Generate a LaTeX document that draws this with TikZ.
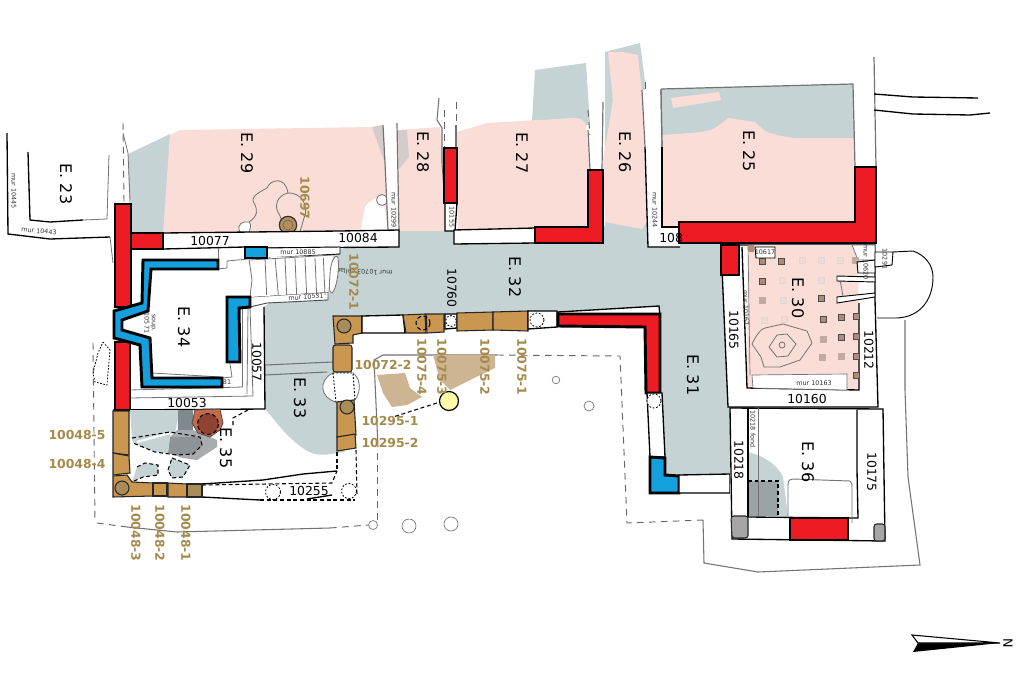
\documentclass[tikz,border=0pt]{standalone}
\usepackage{fontspec}
\setmainfont{DejaVu Sans}
\usetikzlibrary{calc}
\definecolor{grayz}{HTML}{C5D3D5}
\definecolor{pinkz}{HTML}{F9DDD6}
\definecolor{mauvez}{HTML}{D3CBCC}
\definecolor{redw}{HTML}{ED1C24}
\definecolor{bluew}{HTML}{149FDD}
\definecolor{brick}{HTML}{C9974F}
\definecolor{brickd}{HTML}{A98C5C}
\definecolor{tanz}{HTML}{CDB593}
\definecolor{labc}{HTML}{A58A4B}
\definecolor{sqd}{HTML}{B08A78}
\definecolor{sqg}{HTML}{C2ABA5}
\definecolor{sqf}{HTML}{F3D9D0}
\definecolor{ovenout}{HTML}{C76A4A}
\definecolor{ovenin}{HTML}{8F4433}
\definecolor{darka}{HTML}{7F898E}
\definecolor{darkb}{HTML}{8E9397}
\definecolor{darkc}{HTML}{A9ACAF}
\tikzset{
 redwall/.style={draw=black,fill=redw,line width=2.2pt,line join=miter},
 bluewall/.style={draw=black,fill=bluew,line width=2.2pt,line join=miter},
 whitewall/.style={draw=black,fill=white,line width=1pt},
 brickbox/.style={draw=black!85,fill=brick,line width=.8pt},
 brickcirc/.style={draw=black!85,fill=brickd,line width=.8pt},
 thin gray/.style={draw=black!55,line width=.6pt},
 thinblack/.style={draw=black,line width=1pt},
 dashgray/.style={draw=black!60,line width=.7pt,dash pattern=on 5pt off 4pt},
 dashblack/.style={draw=black,line width=.8pt,dash pattern=on 3pt off 2pt},
 dotcirc/.style={draw=black,line width=.6pt,dash pattern=on 1.4pt off 1.2pt,fill=white},
 bigt/.style={font=\fontsize{12}{12}\selectfont,rotate=-90,inner sep=0pt},
 numh/.style={font=\fontsize{9.3}{9.3}\selectfont,inner sep=0pt},
 numv/.style={numh,rotate=-90},
 tiny lab/.style={font=\fontsize{4.8}{5.5}\selectfont,inner sep=0pt,text=black!80,align=center},
 brownh/.style={font=\bfseries\fontsize{9.3}{9.3}\selectfont,text=labc,inner sep=0pt},
 brownv/.style={brownh,rotate=-90},
}
\newcommand{\sqr}[4]{\filldraw[fill=#1,draw=#4,line width=.35pt] ($(640,210)+(#2/3,#3/3)+(-3,-3)$) rectangle ++(6,6);}
\begin{document}
\begin{tikzpicture}[x=.75pt,y=-.75pt]
\useasboundingbox (0,0) rectangle (1024,678);
\fill[white] (0,0) rectangle (1024,678);
% ---------- gray zones
\fill[grayz] (128,154) -- (170,134) -- (165,236) -- (130,236) -- cycle;
\fill[grayz] (264,307) -- (340,250) -- (398,230) -- (648,225) -- (722,240) -- (723,275) -- (730,408) -- (730,475) -- (665,475) -- (655,318) -- (335,318) -- (345,452) -- (337,453) .. controls (322,456) and (312,456) .. (300,446) .. controls (285,435) and (275,420) .. (265,409) -- cycle;
\fill[grayz] (535,70) -- (586,63) -- (590,125) -- (532,122) -- cycle;
\fill[grayz] (605,52) -- (640,43) -- (645,82) -- (650,226) -- (605,226) -- cycle;
\fill[grayz] (661,89) -- (853,84) -- (855,140) -- (662,140) -- cycle;
% ---------- pink zones
\fill[pinkz] (170,135) -- (180,130) -- (372,127) -- (383,125) -- (388,232) -- (163,234) -- cycle;
\fill[white] (360,232) -- (365,207) .. controls (370,200) and (376,197) .. (383,197) -- (388,232) -- cycle;
\fill[mauvez] (372,127) -- (383,125) -- (385,163) -- cycle;
\fill[pinkz] (398,130) -- (440,127) -- (443,165) -- (447,231) -- (398,231) -- cycle;
\fill[mauvez] (398,130) -- (407,130) -- (409,157) -- (399,169) -- cycle;
\fill[pinkz] (457,132) -- (487,123) -- (573,118) .. controls (580,118) and (585,120) .. (586,125) -- (590,170) -- (590,228) -- (458,231) -- cycle;
\fill[pinkz] (608,52) .. controls (620,51) and (630,53) .. (638,55) -- (642,93) -- (647,147) -- (648,220) -- (642,229) -- (605,222) -- (603,160) -- (613,100) -- cycle;
\fill[pinkz] (662,135) -- (690,133) .. controls (705,132) and (713,130) .. (718,126) -- (728,118) -- (755,122) .. controls (760,126) and (763,130) .. (767,132) .. controls (780,136) and (790,138) .. (797,138) -- (854,138) -- (855,226) -- (662,228) -- cycle;
\fill[pinkz] (671,98) -- (719,92) -- (721,100) -- (673,108) -- cycle;
% ---------- E.23
\draw[thinblack] (7,133) -- (8,234) -- (50,239) -- (110,237);
\draw[thinblack] (28,152) -- (30,220) -- (50,222) -- (83,220);
\draw[thin gray] (83,220) -- (107,219) -- (109,155);
\draw[thin gray] (110,237) -- (113,263);
\draw[dashgray] (123,123) -- (124,202);
\draw[thin gray] (123,133) -- (128,153) -- (130,200);
% ---------- E.29 features
\draw[thin gray,fill=white] (240,232) .. controls (236,224) and (243,221) .. (249,222) .. controls (252,224) and (250,230) .. (249,232);
\draw[thin gray] (249,222) .. controls (258,216) and (258,210) .. (254,203) .. controls (250,197) and (258,193) .. (267,188) .. controls (270,180) and (285,175) .. (288,193) .. controls (278,195) and (274,205) .. (278,212) .. controls (284,222) and (280,225) .. (283,232);
\draw[thin gray] (288,193) .. controls (300,192) and (310,205) .. (304,218) -- (300,232);
\node[circle,minimum size=13pt,inner sep=0pt,draw=black!80,line width=.9pt,fill=brickd!60!brick] (c697) at (288,225) {};
\draw[draw=black!60,line width=.5pt] (288,225) circle (5);
\draw[thin gray,fill=white] (382,200) circle (5.5);
% ---------- small lines north
\fill[white] (383,125) -- (397,123) -- (399,232) -- (388,232) -- cycle;
\draw[thin gray,line width=.9pt] (383,125) -- (385,163) -- (388,230);
\draw[thin gray,line width=.9pt] (397,123) -- (399,232);
\draw[dashgray] (444,110) -- (444,147);
\draw[dashgray] (456,102) -- (456,125);
\draw[thin gray,line width=.8pt] (456,125) -- (456,148);
\draw[thin gray,line width=.8pt] (439,98) -- (437,120) -- (442,128) -- (442,163) -- (445,203);
\draw[dashgray] (588,110) -- (590,135);
\draw[thin gray,line width=.9pt] (588,130) -- (590,170);
\draw[thin gray,line width=.9pt] (603,102) -- (602,170);
\draw[dashgray] (645,82) -- (645,120);
\fill[white] (642,90) -- (661,90) -- (662,227) -- (680,227) -- (680,247) -- (648,247) -- cycle;
\draw[thin gray,line width=.9pt] (642,90) -- (645,147);
\draw[thinblack] (645,147) -- (648,247) -- (680,247);
\draw[thin gray,line width=.9pt] (661,90) -- (662,147);
\draw[thinblack] (662,147) -- (662,227) -- (680,227);
\draw[thin gray,line width=.9pt] (661,89) -- (853,84) -- (855,167);
\draw[thin gray,line width=.9pt] (661,89) -- (662,147);
\draw[thin gray,line width=.9pt] (874,57) -- (876,167);
\draw[thinblack] (874,94) -- (913,97) -- (978,98);
\draw[thinblack] (874,110) -- (913,114) -- (970,115) -- (990,113);
% ---------- walls of northern row
\draw[whitewall] (163,233) -- (340,231) -- (399,230) -- (399,247) -- (267,248) -- (245,247) -- (163,249) -- cycle;
\draw[whitewall] (445,203) -- (457,203) -- (455,231) -- (445,231) -- cycle;
\draw[whitewall] (454,230) -- (535,228) -- (535,243) -- (454,244) -- cycle;
\draw[redwall] (444,148) rectangle (457,203);
\draw[redwall] (535,227) -- (588,227) -- (588,170) -- (603,170) -- (603,243) -- (535,243) -- cycle;
\draw[redwall] (679,222) -- (855,222) -- (855,167) -- (876,167) -- (876,243) -- (679,243) -- cycle;
% ---------- E.34 block
\draw[whitewall,line width=.7pt] (267,248) -- (340,247) -- (340,254) -- (267,258) -- cycle;
\draw[whitewall,line width=.7pt,draw=black!70] (250,297) -- (328,292) -- (328,300) -- (267,303) -- (250,307) -- cycle;
\fill[white] (250,258) -- (333,255) -- (328,292) -- (250,297) -- cycle;
\draw[thin gray] (218,248) -- (218,269);
\draw[thin gray] (227,268) -- (227,261) -- (248,259);
\draw[thin gray] (218,269) -- (227,268);
\draw[thin gray] (249,259) -- (252,280) -- (250,297);
\draw[thin gray] (250,260) -- (333,255);
\foreach \a/\b in {795/800,825/835,855/860,885/890,915/920,945/950,970/975}
  \draw[thin gray] ({\a/3},258) -- ({\b/3},{120+525/3});
\draw[thin gray,fill=white] (330,275) .. controls (330,262) and (336,252) .. (338,258) .. controls (340,270) and (336,290) .. (332,293) .. controls (329,293) and (329,285) .. (330,275);
\draw[thin gray] (248,308) -- (247,394);
\draw[thin gray] (242,308) -- (242,387);
\draw[thin gray] (152,373) -- (221,377);
\draw[thin gray] (230,364) -- (232,377) -- (222,378);
\draw[thin gray] (130,390) -- (243,387);
\draw[thin gray] (130,398) -- (253,396) -- (250,307);
\draw[thin gray,line width=.8pt] (265,365) -- (333,362);
\draw[thin gray,line width=.8pt] (265,375) -- (327,372);
\draw[thinblack] (264,307) -- (265,409);
\draw[thinblack] (113,410) -- (265,409);
\draw[redwall] (115,204) rectangle (131,307);
\draw[redwall] (131,233) rectangle (163,249);
\draw[redwall] (115,342) rectangle (130,410);
\draw[bluewall] (245,247) rectangle (267,258);
\draw[bluewall] (143,260) -- (218,260) -- (218,269) -- (151,269) -- (148,311) -- (122,320) -- (122,330) -- (150,338) -- (152,378) -- (222,378) -- (222,387) -- (142,387) -- (140,345) -- (114,338) -- (114,311) -- (142,303) -- cycle;
\draw[bluewall] (227,297) -- (250,297) -- (250,307) -- (239,308) -- (240,362) -- (227,362) -- cycle;
% ---------- outer site lines
\draw[dashgray] (93,343) -- (95,522);
\draw[dashgray] (97,523) -- (127,527);
\draw[thin gray,line width=.8pt] (127,527) -- (177,532) -- (330,528);
\draw[dashgray] (330,528) -- (368,525);
\draw[dashgray] (377,520) -- (377,453);
\draw[thin gray,line width=.8pt] (378,447) -- (374,360) -- (383,355) -- (497,355);
\draw[dashgray] (497,355) -- (620,356) -- (627,523) -- (703,520);
\draw[thin gray,line width=.8pt] (703,520) -- (704,563) -- (758,572) -- (920,565) -- (908,477) -- (905,390) -- (905,320);
\draw[black,line width=.6pt,dash pattern=on 1.2pt off 1.2pt] (103,342) -- (110,350) -- (107,385) -- (95,382) -- (93,373) -- (98,353) -- cycle;
\draw[thin gray,line width=.5pt] (373,525) circle (4.5);
\draw[thin gray,line width=.5pt] (409,526) circle (7);
\draw[thin gray,line width=.5pt] (451,524) circle (7);
\draw[thin gray,line width=.5pt] (556,380) circle (3.8);
\draw[thin gray,line width=.5pt] (589,406) circle (5);
% ---------- tan zones
\fill[tanz] (377,375) -- (405,373) -- (410,388) -- (422,397) -- (407,405) -- (392,407) -- (383,393) -- cycle;
\fill[tanz] (433,355) -- (495,355) -- (495,368) -- (470,380) -- (450,390) -- (440,380) -- cycle;
\draw[dashblack] (437,403) -- (393,417);
\draw[black,line width=.9pt,fill=yellow!35!white] (449,401) circle (9.5);
% ---------- E.35
\fill[grayz] (130,410) -- (180,410) -- (175,433) -- (132,438) -- cycle;
\fill[darka] (178,410) -- (193,410) -- (193,430) -- (178,430) -- cycle;
\fill[darkc] (193,430) -- (217,440) -- (217,447) -- (197,460) -- (183,458) -- (168,453) -- (170,437) -- (177,430) -- cycle;
\fill[darkb] (170,437) -- (200,437) -- (202,445) -- (193,454) -- (177,455) -- (168,453) -- cycle;
\fill[grayz] (132,438) -- (170,432) -- (170,437) -- (168,453) -- (155,452) -- (133,443) -- cycle;
\draw[white,line width=1.6pt] (137,442) -- (170,433);
\draw[dashblack] (132,438) -- (170,432) -- (200,437) -- (202,445) -- (193,454) -- (177,455) -- (155,452) -- (133,443);
\fill[grayz] (132,482) -- (137,467) -- (145,463) -- (158,465) -- (158,475) -- (143,477) -- cycle;
\draw[dashblack] (137,467) -- (145,463) -- (158,465) -- (158,475) -- (143,477) -- (132,482);
\draw[dashblack,fill=grayz] (172,458) -- (190,465) -- (183,477) -- (172,478) -- (168,470) -- cycle;
\draw[draw=black!70,line width=.6pt,fill=ovenout] (195,410) -- (220,409) -- (223,423) -- (220,430) -- (210,437) -- (198,433) -- (192,423) -- cycle;
\draw[dashblack,fill=ovenin] (208,424) circle (10.5);
\draw[dashblack] (248,410) -- (233,418) -- (233,425);
% ---------- 10255
\draw[thinblack] (202,484) -- (263,480) -- (303,474) -- (337,471);
\draw[dashblack] (202,485) -- (332,483) -- (337,471);
\draw[thinblack] (202,497) -- (260,500);
\draw[dashblack] (260,500) -- (355,500);
\draw[thinblack] (307,499) -- (332,495);
\draw[dashblack] (337,452) -- (337,470);
\draw[dashblack] (356,450) -- (357,495);
\draw[dotcirc] (273,492) circle (7.5);
\draw[dotcirc] (349,491) circle (7.5);
% ---------- bricks lower left
\draw[brickbox] (113,411) -- (129,411) -- (129,455) -- (113,453) -- cycle;
\draw[brickbox] (113,453) -- (129,456) -- (130,473) -- (113,475) -- cycle;
\draw[brickbox] (113,476) -- (127,475) -- (132,482) -- (153,483) -- (153,496) -- (113,497) -- cycle;
\draw[brickbox] (153,483) -- (167,483) -- (167,496) -- (153,496) -- cycle;
\draw[brickbox] (168,483) -- (187,484) -- (187,497) -- (168,497) -- cycle;
\draw[brickbox,fill=brickd] (187,484) -- (202,484) -- (202,497) -- (187,497) -- cycle;
\draw[brickcirc] (122,488) circle (7);
% ---------- brick row
\draw[brickbox] (333,316) -- (362,316) -- (362,333) -- (353,335) -- (353,343) -- (335,344) -- cycle;
\draw[brickcirc] (344,326) circle (7);
\draw[whitewall] (362,316) -- (403,315) -- (405,333) -- (362,333) -- cycle;
\draw[brickbox] (403,315) -- (425,314) -- (426,333) -- (406,333) -- cycle;
\draw[brickbox] (426,314) -- (444,314) -- (444,332) -- (427,333) -- cycle;
\draw[dashblack] (423,323) circle (7);
\draw[whitewall] (445,314) -- (457,314) -- (457,328) -- (445,329) -- cycle;
\draw[dotcirc] (451,321) circle (5.5);
\draw[brickbox] (457,313) -- (493,312) -- (493,330) -- (457,331) -- cycle;
\draw[brickbox] (493,312) -- (528,311) -- (528,331) -- (493,330) -- cycle;
\draw[whitewall] (528,311) -- (557,311) -- (557,327) -- (528,329) -- cycle;
\draw[dotcirc] (537,320) circle (7);
\draw[whitewall] (558,312) -- (659,306) -- (660,316) -- (558,316) -- cycle;
\draw[redwall] (558,314) -- (660,314) -- (660,393) -- (646,393) -- (645,327) -- (558,326) -- cycle;
\draw[whitewall] (647,393) -- (662,393) -- (665,457) -- (650,457) -- cycle;
\draw[dotcirc] (654,401) circle (7);
\draw[bluewall] (650,457) -- (665,458) -- (665,475) -- (679,476) -- (679,493) -- (650,493) -- cycle;
\draw[whitewall] (679,475) -- (730,474) -- (730,493) -- (679,493) -- cycle;
% ---------- west brick side
\draw[brickbox,rounded corners=2pt] (333,345) -- (352,345) -- (352,372) -- (333,372) -- cycle;
\draw[thin gray,fill=white] (333,373) .. controls (318,380) and (320,398) .. (336,402) -- (355,400) .. controls (362,390) and (360,378) .. (353,373) -- cycle;
\draw[black,line width=.7pt,dash pattern=on 1.3pt off 1.3pt,fill=white] (333,373) -- (353,373) -- (355,400) -- (336,402) -- cycle;
\draw[brickbox] (337,402) -- (354,400) -- (356,435) -- (337,437) -- cycle;
\draw[brickcirc] (347,407) circle (7);
\draw[brickbox] (337,437) -- (355,434) -- (356,448) -- (337,451) -- cycle;
% ---------- E.30
\draw[whitewall] (721,245) -- (875,245) -- (875,300) -- (878,407) -- (728,407) -- cycle;
\fill[pinkz] (748,245) -- (852,245) -- (858,260) -- (860,390) -- (747,388) -- cycle;
\draw[thinblack] (742,247) -- (747,388) -- (859,390) -- (859,303);
\draw[thin gray,line width=.5pt] (748,245) -- (750,375);
\draw[thin gray,fill=white,line width=.5pt] (752,375) -- (847,374) -- (847,390) -- (753,388) -- cycle;
\draw[thin gray,fill=white,line width=.6pt] (852,245) -- (858,260) -- (875,260) -- (875,245) -- cycle;
\fill[sqd] (748,245) rectangle (754,252);
\sqr{sqd}{367}{155}{black!70}\sqr{sqd}{425}{153}{black!70}\sqr{sqd}{367}{215}{black!70}
\sqr{sqd}{544}{265}{black!70}\sqr{sqd}{550}{327}{black!70}\sqr{sqd}{604}{323}{black!70}
\sqr{sqd}{604}{381}{black!70}\sqr{sqd}{650}{320}{black!70}\sqr{sqd}{650}{380}{black!70}
\sqr{sqd}{650}{438}{black!70}\sqr{sqd}{650}{497}{black!70}
\sqr{sqg}{367}{272}{sqg}\sqr{sqg}{550}{387}{sqg}\sqr{sqg}{547}{443}{sqg}\sqr{sqg}{604}{438}{sqg}\sqr{sqg}{645}{150}{sqg}
\sqr{sqf}{487}{152}{black!15}\sqr{sqf}{544}{152}{black!15}\sqr{sqf}{600}{152}{black!15}\sqr{sqf}{428}{212}{black!15}\sqr{sqf}{544}{210}{black!15}\sqr{sqf}{430}{272}{black!15}\sqr{sqf}{372}{332}{black!15}\sqr{sqf}{432}{328}{black!15}
\draw[thin gray,line width=.6pt] (752,344) .. controls (756,335) and (762,328) .. (765,328) -- (783,324) -- (807,331) -- (812,343) -- (800,360) -- (780,367) -- (764,367) -- (761,357) -- cycle;
\draw[thin gray,line width=.6pt] (769,347) -- (777,335) -- (787,334) -- (796,344) -- (788,356) -- (777,357) -- cycle;
\draw[thin gray,line width=.6pt] (782,345) circle (3);
\draw[whitewall,line width=.7pt] (837,276) -- (875,277) -- (875,282) -- (837,281) -- cycle;
\draw[whitewall,line width=.7pt] (837,297) -- (875,293) -- (875,297) -- (837,303) -- cycle;
\draw[thin gray] (840,281) .. controls (842,288) and (842,292) .. (843,297);
\draw[whitewall,line width=.7pt] (857,262) -- (875,260) -- (875,273) -- (858,273) -- cycle;
\draw[whitewall,line width=.7pt] (755,247) -- (775,247) -- (775,258) -- (756,258) -- cycle;
\draw[whitewall,line width=.7pt] (875,252) -- (893,252) -- (892,265) -- (875,267) -- cycle;
\draw[thinblack,line width=.7pt] (893,252) -- (913,251) .. controls (925,255) and (933,265) .. (933,277) .. controls (933,300) and (920,317) .. (897,318) -- (877,318);
\draw[redwall] (721,245) rectangle (739,275);
% ---------- E.36
\fill[white] (730,408) rectangle (885,541);
\fill[grayz] (748,452) .. controls (760,455) and (776,462) .. (783,477) -- (788,516) -- (748,516) -- cycle;
\fill[grayz!78!black] (748,481) rectangle (778,516);
\draw[dashblack] (748,481) -- (778,481) -- (778,516);
\draw[thinblack] (730,408) -- (883,409) -- (885,541) -- (732,539) -- cycle;
\draw[thinblack] (748,517) -- (858,518) -- (857,470) -- (857,410);
\draw[thinblack,line width=.8pt] (748,408) -- (748,517);
\draw[thin gray] (758,408) -- (758,516);
\draw[thin gray,line width=.7pt] (788,516) -- (788,485) .. controls (788,480) and (790,479) .. (793,479) -- (850,481) .. controls (852,482) and (852,485) .. (852,487) -- (852,523);
\draw[redwall] (790,518) rectangle (848,540);
\draw[black!85,fill=black!35,line width=.8pt,rounded corners=2pt] (731,516) -- (748,516) -- (748,538) -- (732,538) -- cycle;
\draw[black!85,fill=black!35,line width=.8pt,rounded corners=2pt] (874,524) -- (885,524) -- (885,541) -- (874,541) -- cycle;
% ---------- compass
\fill[black] (918,643) -- (1000,643) -- (913,652) -- cycle;
\draw[black,line width=.8pt,fill=white,line join=miter] (912,635) -- (918,643) -- (1000,643) -- cycle;
\node[font=\fontsize{9.5}{9.5}\selectfont,rotate=-90,inner sep=0pt] (nn) at (1008,643) {N};
% ---------- big labels
\node[bigt] (e23) at (66,184) {E. 23};
\node[bigt] (e29) at (247,153) {E. 29};
\node[bigt] (e28) at (423,152) {E. 28};
\node[bigt] (e27) at (522,153) {E. 27};
\node[bigt] (e26) at (625,152) {E. 26};
\node[bigt] (e25) at (749,151) {E. 25};
\node[bigt] (e30) at (798,298) {E. 30};
\node[bigt] (e32) at (515,277) {E. 32};
\node[bigt] (e31) at (693,375) {E. 31};
\node[bigt] (e33) at (300,398) {E. 33};
\node[bigt] (e34) at (184,327) {E. 34};
\node[bigt] (e35) at (226,448) {E. 35};
\node[bigt] (e36) at (808,462) {E. 36};
% ---------- numbers
\node[numh] (n77) at (210,241) {10077};
\node[numh] (n84) at (358,238) {10084};
\node[numh,anchor=west] (n108) at (659,238) {108};
\node[numh] (n53) at (187,403) {10053};
\node[numv] (n57) at (257,362) {10057};
\node[numh] (n255) at (309,491) {10255};
\node[numv] (n760) at (452,288) {10760};
\node[numv] (n165) at (734,330) {10165};
\node[numv] (n212) at (869,350) {10212};
\node[numh] (n160) at (807,399) {10160};
\node[numv] (n218) at (739,460) {10218};
\node[numv] (n175) at (872,472) {10175};
% ---------- small labels
\node[tiny lab,rotate=-90] (s1) at (14,191) {mur 10445};
\node[tiny lab,rotate=-5] (s2) at (39,231) {mur 10443};
\node[tiny lab] (s3) at (298,252) {mur 10885};
\node[tiny lab,rotate=4] (s4) at (306,297) {mur 10531};
\node[tiny lab,rotate=-90] (s5) at (150,323) {soup.\\10571};
\node[tiny lab] (s6) at (227,382) {81};
\node[tiny lab,rotate=-90] (s7) at (394,210) {mur 10299};
\node[tiny lab,rotate=-90] (s8) at (452,217) {10155};
\node[tiny lab,rotate=-90] (s9) at (655,210) {mur 10244};
\node[tiny lab,rotate=178] (s10) at (365,272) {mur 10703 cellar};
\node[tiny lab,rotate=-88] (s11) at (746,308) {mur 10167};
\node[tiny lab,rotate=-90] (s12) at (866,262) {mur 10620};
\node[tiny lab,rotate=-90] (s13) at (885,259) {10291};
\node[tiny lab] (s14) at (765,252) {10617};
\node[tiny lab] (s15) at (814,383) {mur 10163};
\node[tiny lab,rotate=-90] (s16) at (753,430) {10218 fond.};
% ---------- brown labels
\node[brownv] (b1) at (305,198) {10697};
\node[brownv] (b2) at (354,282) {10072-1};
\node[brownh] (b3) at (383,365) {10072-2};
\node[brownv] (b4) at (422,367) {10075-4};
\node[brownv] (b5) at (442,367) {10075-3};
\node[brownv] (b6) at (485,367) {10075-2};
\node[brownv] (b7) at (522,367) {10075-1};
\node[brownh] (b8) at (390,421) {10295-1};
\node[brownh] (b9) at (390,443) {10295-2};
\node[brownh] (b10) at (77,435) {10048-5};
\node[brownh] (b11) at (77,464) {10048-4};
\node[brownv] (b12) at (136,533) {10048-3};
\node[brownv] (b13) at (160,533) {10048-2};
\node[brownv] (b14) at (186,533) {10048-1};
\end{tikzpicture}
\end{document}
